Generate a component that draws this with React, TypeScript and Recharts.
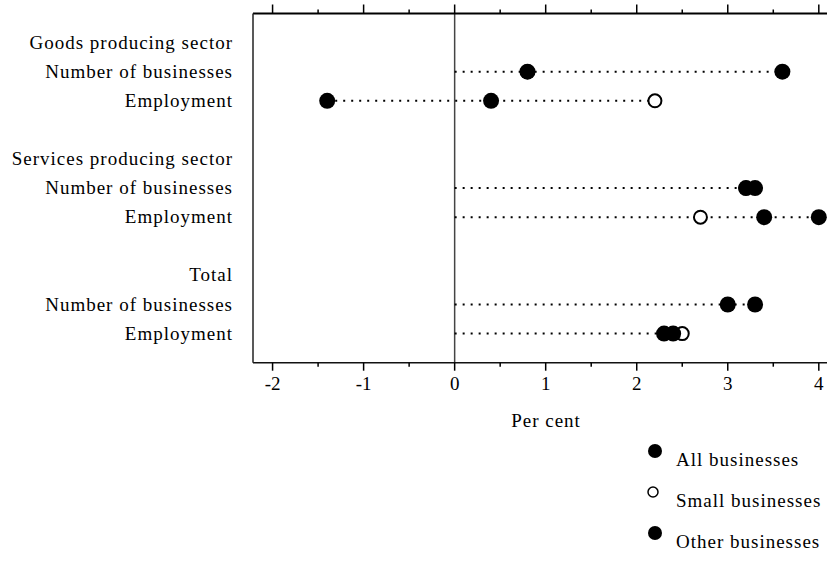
import { ScatterChart, Scatter, XAxis, YAxis, ReferenceLine } from 'recharts'

const FONT = "'Liberation Serif', 'Times New Roman', serif"

// row labels down the left side, top to bottom (rows 4 and 8 are blank spacers)
const rowLabels = [
  'Goods producing sector',
  'Number of businesses',
  'Employment',
  'Services producing sector',
  'Number of businesses',
  'Employment',
  'Total',
  'Number of businesses',
  'Employment',
]
const labelRows = [1, 2, 3, 5, 6, 7, 9, 10, 11]
const dataRows = [2, 3, 6, 7, 10, 11]

// per cent change, one value per data row
const allBusinesses = [0.8, 0.4, 3.2, 3.4, 3.0, 2.4]
const smallBusinesses = [0.8, 2.2, 3.2, 2.7, 3.0, 2.5]
const otherBusinesses = [3.6, -1.4, 3.3, 4.0, 3.3, 2.3]

const xTicks = [-2, -1.5, -1, -0.5, 0, 0.5, 1, 1.5, 2, 2.5, 3, 3.5, 4]

const toPoints = (values: number[]) => values.map((v, i) => ({ x: v, y: dataRows[i] }))

const series = [
  { name: 'All businesses', values: allBusinesses, open: false },
  { name: 'Small businesses', values: smallBusinesses, open: true },
  { name: 'Other businesses', values: otherBusinesses, open: false },
]

const FilledDot = (props: any) => <circle cx={props.cx} cy={props.cy} r={8} fill="#000" />
const OpenDot = (props: any) => (
  <circle cx={props.cx} cy={props.cy} r={6.5} fill="#fff" stroke="#000" strokeWidth={2} />
)

const BottomTick = ({ x, y, payload }: any) => {
  const major = Number.isInteger(payload.value)
  return (
    <g>
      <line x1={x} y1={y} x2={x} y2={y + (major ? 8 : 4)} stroke="#000" strokeWidth={1.5} />
      {major && (
        <text x={x} y={y + 27} textAnchor="middle" fontFamily={FONT} fontSize={19} fill="#000">
          {String(payload.value)}
        </text>
      )}
    </g>
  )
}

const TopTick = ({ x, y, payload }: any) => {
  const major = Number.isInteger(payload.value)
  return <line x1={x} y1={y} x2={x} y2={y - (major ? 9 : 4)} stroke="#000" strokeWidth={1.5} />
}

const RowTick = ({ x, y, payload }: any) => {
  const idx = labelRows.indexOf(payload.value)
  if (idx < 0) return null
  return (
    <text
      x={x - 20}
      y={y}
      dy={6}
      textAnchor="end"
      fontFamily={FONT}
      fontSize={19}
      letterSpacing={1}
      fill="#000"
    >
      {rowLabels[idx]}
    </text>
  )
}

const AxisTitle = (props: any) => {
  const vb = props.viewBox
  return (
    <text
      x={vb.x + vb.width / 2 + 6}
      y={vb.y + 64}
      textAnchor="middle"
      fontFamily={FONT}
      fontSize={19}
      letterSpacing={1}
      fill="#000"
    >
      Per cent
    </text>
  )
}

export default function App() {
  const drawOrder = [series[1], series[0], series[2]]
  return (
    <div style={{ position: 'absolute', left: 0, top: 0, width: 827, height: 561, background: '#fff' }}>
      <ScatterChart width={827} height={561} margin={{ top: 0, right: 0, bottom: 0, left: 0 }}>
        <XAxis
          xAxisId="b"
          type="number"
          dataKey="x"
          orientation="bottom"
          domain={[-2.215, 4.09]}
          allowDataOverflow
          ticks={xTicks}
          interval={0}
          height={198.3}
          tickSize={0}
          tickMargin={0}
          tickLine={false}
          tick={<BottomTick />}
          axisLine={{ stroke: '#111', strokeWidth: 1.5 }}
          label={<AxisTitle />}
        />
        <XAxis
          xAxisId="t"
          type="number"
          dataKey="x"
          orientation="top"
          domain={[-2.215, 4.09]}
          allowDataOverflow
          ticks={xTicks}
          interval={0}
          height={13.5}
          tickSize={0}
          tickMargin={0}
          tickLine={false}
          tick={<TopTick />}
          axisLine={{ stroke: '#000', strokeWidth: 2 }}
        />
        <YAxis
          type="number"
          dataKey="y"
          domain={[0, 12]}
          reversed
          ticks={labelRows}
          interval={0}
          width={253}
          tickSize={0}
          tickMargin={0}
          tickLine={false}
          tick={<RowTick />}
          axisLine={{ stroke: '#222', strokeWidth: 1.5 }}
        />
        <ReferenceLine xAxisId="b" x={0} stroke="#444" strokeWidth={1.5} />
        {dataRows.map((row, i) => {
          const vals = series.map((s) => s.values[i])
          return (
            <ReferenceLine
              key={`row-${row}`}
              xAxisId="b"
              segment={[
                { x: Math.min(0, ...vals), y: row },
                { x: Math.max(...vals), y: row },
              ]}
              stroke="#000"
              strokeWidth={2}
              strokeDasharray="2 6"
            />
          )
        })}
        {drawOrder.map((s) => (
          <Scatter
            key={s.name}
            name={s.name}
            xAxisId="b"
            data={toPoints(s.values)}
            shape={s.open ? <OpenDot /> : <FilledDot />}
            isAnimationActive={false}
          />
        ))}
      </ScatterChart>
      <svg
        width={200}
        height={130}
        style={{ position: 'absolute', left: 627, top: 425 }}
      >
        {series.map((s, i) => (
          <g key={s.name}>
            {s.open ? (
              <circle cx={26} cy={26 + i * 41} r={5} fill="#fff" stroke="#000" strokeWidth={1.5} />
            ) : (
              <circle cx={28} cy={26 + i * 41} r={7} fill="#000" />
            )}
            <text
              x={49}
              y={41 + i * 41}
              fontFamily={FONT}
              fontSize={19}
              letterSpacing={1}
              fill="#000"
            >
              {s.name}
            </text>
          </g>
        ))}
      </svg>
    </div>
  )
}
